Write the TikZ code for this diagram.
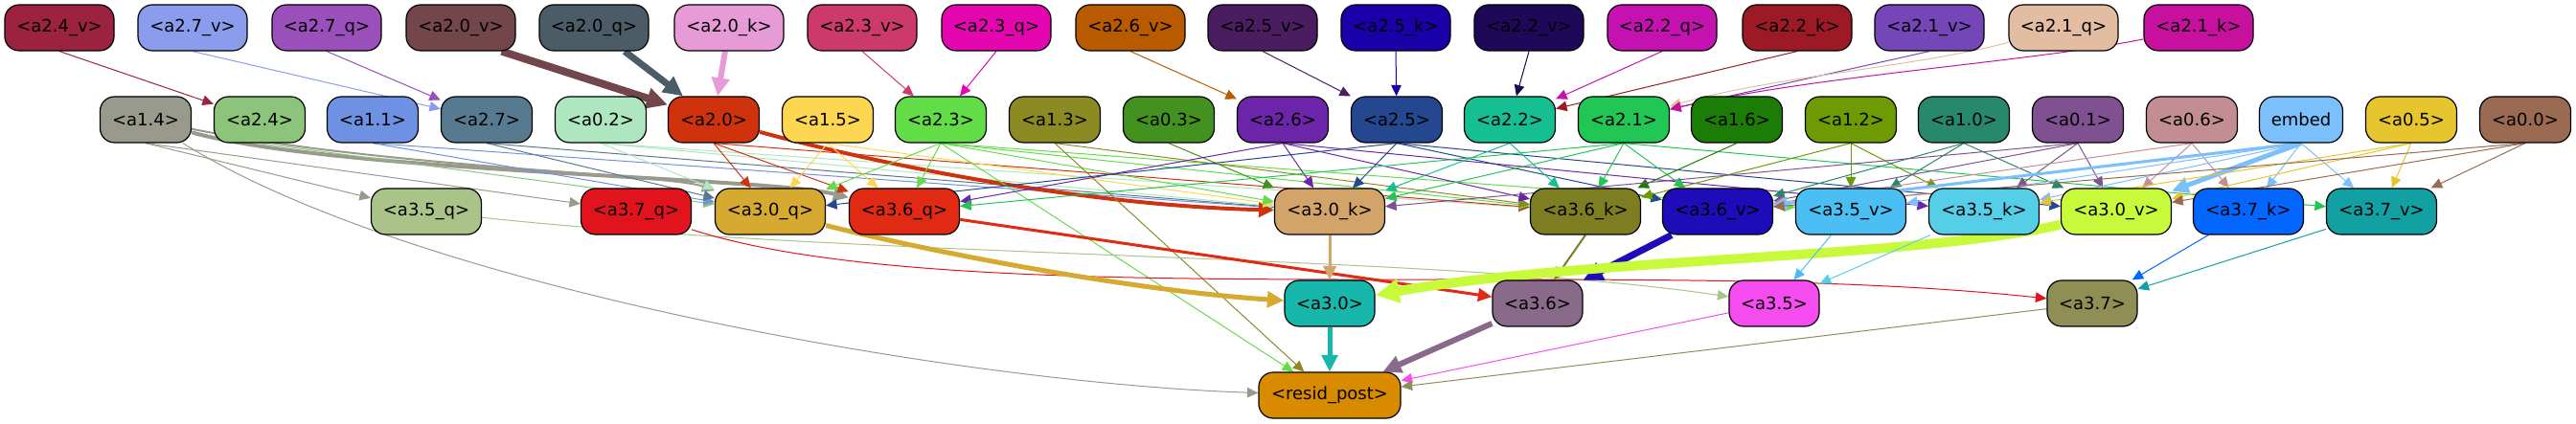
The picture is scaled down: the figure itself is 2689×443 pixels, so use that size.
\documentclass[tikz,border=0pt]{standalone}
\usepackage{fontspec}
\setmainfont{DejaVu Sans}
\usetikzlibrary{arrows.meta,backgrounds}
% row 1
\definecolor{cn24v}{HTML}{9C2340}\definecolor{cn27v}{HTML}{8C9CED}\definecolor{cn27q}{HTML}{9A4FBB}
\definecolor{cn20v}{HTML}{72464B}\definecolor{cn20q}{HTML}{4B5C66}\definecolor{cn20k}{HTML}{E69BD6}
\definecolor{cn23v}{HTML}{CC3A6B}\definecolor{cn23q}{HTML}{E407B0}\definecolor{cn26v}{HTML}{B85A00}
\definecolor{cn25v}{HTML}{4A1D60}\definecolor{cn25k}{HTML}{1A00A8}\definecolor{cn22v}{HTML}{1E0858}
\definecolor{cn22q}{HTML}{C411B0}\definecolor{cn22k}{HTML}{9C1A26}\definecolor{cn21v}{HTML}{7546B8}
\definecolor{cn21q}{HTML}{E2BDA2}\definecolor{cn21k}{HTML}{C7119E}
% row 2
\definecolor{cn14}{HTML}{999A8C}\definecolor{cn24}{HTML}{8BC47A}\definecolor{cn11}{HTML}{6E91E4}
\definecolor{cn27}{HTML}{587A90}\definecolor{cn02}{HTML}{AEE6BF}\definecolor{cn20}{HTML}{CF330E}
\definecolor{cn15}{HTML}{FDD652}\definecolor{cn23}{HTML}{62DD48}\definecolor{cn13}{HTML}{8C8A22}
\definecolor{cn03}{HTML}{43911E}\definecolor{cn26}{HTML}{6C25A8}\definecolor{cn25}{HTML}{244790}
\definecolor{cn22}{HTML}{16BF91}\definecolor{cn21}{HTML}{22C655}\definecolor{cn16}{HTML}{1B7C08}
\definecolor{cn12}{HTML}{6E9A04}\definecolor{cn10}{HTML}{27886C}\definecolor{cn01}{HTML}{7F5191}
\definecolor{cn06}{HTML}{C38E93}\definecolor{cnem}{HTML}{7BBFFC}\definecolor{cn05}{HTML}{E6C52E}
\definecolor{cn00}{HTML}{9A6A52}
% row 3
\definecolor{cn35q}{HTML}{A9C389}\definecolor{cn37q}{HTML}{E1141E}\definecolor{cn30q}{HTML}{D6AA30}
\definecolor{cn36q}{HTML}{E02A14}\definecolor{cn30k}{HTML}{D3A46A}\definecolor{cn36k}{HTML}{7D7D22}
\definecolor{cn36v}{HTML}{1E0CB8}\definecolor{cn35v}{HTML}{4BBFF3}\definecolor{cn35k}{HTML}{55CFE8}
\definecolor{cn30v}{HTML}{C8FA3C}\definecolor{cn37k}{HTML}{0366FF}\definecolor{cn37v}{HTML}{12A0A3}
% row 4/5
\definecolor{cn30}{HTML}{17B7AB}\definecolor{cn36}{HTML}{8A6A8B}\definecolor{cn35}{HTML}{F54CEF}
\definecolor{cn37}{HTML}{8F8F55}\definecolor{cnres}{HTML}{D98B00}
\tikzset{
  box/.style={draw=black, line width=1.2pt, rounded corners=15pt, minimum height=48pt,
    inner sep=0pt, font=\fontsize{18}{20}\selectfont, text=black},
  topbox/.style={box, minimum width=114pt},
  midbox/.style={box, minimum width=95pt},
  qkvbox/.style={box, minimum width=115pt},
  lowbox/.style={box, minimum width=94pt},
  ed/.style={line width=1pt, -{Triangle[length=10pt 1.5, width=9pt 1.5]}},
}
\newcommand\myedge[3]{\draw[ed, draw=c#1, line width=#3pt] (#1.south) -- (#2);}
\newcommand\mynode[6]{\node[#1, fill=c#2] (#2) at (#3,#4) {\textless #5\textgreater};}
\begin{document}
\begin{tikzpicture}[x=1pt,y=-1pt]
\useasboundingbox (0,0) rectangle (2689,443);
% row 1
\mynode{topbox}{n24v}{62}{29}{a2.4\_v}{}
\mynode{topbox}{n27v}{201}{29}{a2.7\_v}{}
\mynode{topbox}{n27q}{341}{29}{a2.7\_q}{}
\mynode{topbox}{n20v}{481}{29}{a2.0\_v}{}
\mynode{topbox}{n20q}{620}{29}{a2.0\_q}{}
\mynode{topbox}{n20k}{761}{29}{a2.0\_k}{}
\mynode{topbox}{n23v}{900}{29}{a2.3\_v}{}
\mynode{topbox}{n23q}{1040}{29}{a2.3\_q}{}
\mynode{topbox}{n26v}{1180}{29}{a2.6\_v}{}
\mynode{topbox}{n25v}{1318}{29}{a2.5\_v}{}
\mynode{topbox}{n25k}{1457}{29}{a2.5\_k}{}
\mynode{topbox}{n22v}{1596}{29}{a2.2\_v}{}
\mynode{topbox}{n22q}{1735}{29}{a2.2\_q}{}
\mynode{topbox}{n22k}{1876}{29}{a2.2\_k}{}
\mynode{topbox}{n21v}{2014}{29}{a2.1\_v}{}
\mynode{topbox}{n21q}{2154}{29}{a2.1\_q}{}
\mynode{topbox}{n21k}{2295}{29}{a2.1\_k}{}
% row 2
\mynode{midbox}{n14}{152}{125}{a1.4}{}
\mynode{midbox}{n24}{271}{125}{a2.4}{}
\mynode{midbox}{n11}{389}{125}{a1.1}{}
\mynode{midbox}{n27}{508}{125}{a2.7}{}
\mynode{midbox}{n02}{627}{125}{a0.2}{}
\mynode{midbox}{n20}{745}{125}{a2.0}{}
\mynode{midbox}{n15}{864}{125}{a1.5}{}
\mynode{midbox}{n23}{982}{125}{a2.3}{}
\mynode{midbox}{n13}{1101}{125}{a1.3}{}
\mynode{midbox}{n03}{1220}{125}{a0.3}{}
\mynode{midbox}{n26}{1339}{125}{a2.6}{}
\mynode{midbox}{n25}{1458}{125}{a2.5}{}
\mynode{midbox}{n22}{1576}{125}{a2.2}{}
\mynode{midbox}{n21}{1695}{125}{a2.1}{}
\mynode{midbox}{n16}{1813}{125}{a1.6}{}
\mynode{midbox}{n12}{1932}{125}{a1.2}{}
\mynode{midbox}{n10}{2050}{125}{a1.0}{}
\mynode{midbox}{n01}{2169}{125}{a0.1}{}
\mynode{midbox}{n06}{2288}{125}{a0.6}{}
\node[box, minimum width=87pt, fill=cnem] (nem) at (2402,125) {embed};
\mynode{midbox}{n05}{2517}{125}{a0.5}{}
\mynode{midbox}{n00}{2636}{125}{a0.0}{}
% row 3
\mynode{qkvbox}{n35q}{445}{221}{a3.5\_q}{}
\mynode{qkvbox}{n37q}{664}{221}{a3.7\_q}{}
\mynode{qkvbox}{n30q}{804}{221}{a3.0\_q}{}
\mynode{qkvbox}{n36q}{944}{221}{a3.6\_q}{}
\mynode{qkvbox}{n30k}{1388}{221}{a3.0\_k}{}
\mynode{qkvbox}{n36k}{1655}{221}{a3.6\_k}{}
\mynode{qkvbox}{n36v}{1793}{221}{a3.6\_v}{}
\mynode{qkvbox}{n35v}{1932}{221}{a3.5\_v}{}
\mynode{qkvbox}{n35k}{2071}{221}{a3.5\_k}{}
\mynode{qkvbox}{n30v}{2209}{221}{a3.0\_v}{}
\mynode{qkvbox}{n37k}{2347}{221}{a3.7\_k}{}
\mynode{qkvbox}{n37v}{2486}{221}{a3.7\_v}{}
% row 4
\mynode{lowbox}{n30}{1388}{317}{a3.0}{}
\mynode{lowbox}{n36}{1605}{317}{a3.6}{}
\mynode{lowbox}{n35}{1852}{317}{a3.5}{}
\mynode{lowbox}{n37}{2184}{317}{a3.7}{}
\node[box, minimum width=148pt, fill=cnres] (nres) at (1388,413) {\textless resid\_post\textgreater};
\begin{scope}[on background layer]
% row 1 -> row 2
\myedge{n24v}{n24}{1}
\myedge{n27v}{n27}{1}
\myedge{n27q}{n27}{1}
\draw[ed, draw=cn20v, line width=8pt] (n20v.-30) -- (n20);
\draw[ed, draw=cn20q, line width=7pt] (n20q) -- (n20);
\draw[ed, draw=cn20k, line width=6pt] (n20k) -- (n20);
\myedge{n23v}{n23}{1}
\myedge{n23q}{n23}{1}
\myedge{n26v}{n26}{1}
\myedge{n25v}{n25}{1}
\myedge{n25k}{n25}{1}
\myedge{n22v}{n22}{1}
\myedge{n22q}{n22}{1}
\myedge{n22k}{n22}{1}
\myedge{n21v}{n21}{1}
\draw[ed, draw=cn21q] (n21q) .. controls (2000,70) and (1850,80) .. (n21);
\draw[ed, draw=cn21k] (n21k) .. controls (2120,65) and (1900,78) .. (n21);
% row 2 -> row 3
\myedge{n14}{n35q}{1}
\myedge{n14}{n37q}{1}
\draw[ed, draw=cn14, line width=4pt] (n14) .. controls (350,180) and (800,185) .. (n36q);
\draw[ed, draw=cn14, line width=2pt] (n14) .. controls (400,175) and (700,182) .. (n30q);
\draw[ed, draw=cn14] (n14) .. controls (430,300) and (1000,400) .. (nres);
\myedge{n24}{n30q}{1}
\myedge{n11}{n30q}{1}
\myedge{n11}{n30k}{1}
\myedge{n27}{n30q}{1}
\myedge{n27}{n30k}{1}
\myedge{n02}{n30q}{1}
\myedge{n02}{n30k}{1}
\myedge{n02}{n36k}{1}
\myedge{n20}{n30q}{1}
\myedge{n20}{n36q}{1}
\draw[ed, draw=cn20, line width=4pt] (n20) .. controls (950,180) and (1150,215) .. (n30k);
\myedge{n20}{n36k}{1}
\myedge{n15}{n30q}{1}
\myedge{n15}{n36q}{1}
\myedge{n15}{n30k}{1}
\myedge{n23}{n30q}{1}
\myedge{n23}{n36q}{1}
\myedge{n23}{n30k}{1}
\myedge{n23}{n36k}{1}
\myedge{n23}{n35v}{1}
\myedge{n23}{nres}{1}
\myedge{n13}{n36k}{1}
\myedge{n13}{nres}{1}
\myedge{n03}{n30k}{1}
\myedge{n26}{n36q}{1}
\myedge{n26}{n30k}{1}
\myedge{n26}{n36k}{1}
\myedge{n26}{n35k}{1}
\myedge{n25}{n30q}{1}
\myedge{n25}{n30k}{1}
\myedge{n25}{n36v}{1}
\myedge{n25}{n30v}{1}
\myedge{n22}{n30k}{1}
\myedge{n22}{n36k}{1}
\myedge{n21}{n36q}{1}
\myedge{n21}{n30k}{1}
\myedge{n21}{n36k}{1}
\myedge{n21}{n36v}{1}
\myedge{n21}{n37v}{1}
\myedge{n16}{n36k}{1}
\myedge{n12}{n36k}{1}
\myedge{n12}{n35v}{1}
\myedge{n12}{n35k}{1}
\myedge{n10}{n36v}{1}
\myedge{n10}{n35v}{1}
\myedge{n10}{n30v}{1}
\myedge{n01}{n30k}{1}
\myedge{n01}{n36v}{1}
\myedge{n01}{n35k}{1}
\myedge{n01}{n30v}{1}
\myedge{n06}{n36v}{1}
\myedge{n06}{n30v}{1}
\myedge{n06}{n37k}{1}
\myedge{nem}{n36v}{3}
\myedge{nem}{n35v}{1}
\myedge{nem}{n35k}{1}
\myedge{nem}{n30v}{5}
\myedge{nem}{n37k}{1}
\myedge{nem}{n37v}{1}
\myedge{n05}{n35k}{1}
\myedge{n05}{n30v}{1}
\myedge{n05}{n37v}{1}
\myedge{n00}{n36v}{1}
\myedge{n00}{n30v}{1}
\myedge{n00}{n37v}{1}
% row 3 -> row 4
\draw[ed, draw=cn35q] (n35q) .. controls (900,270) and (1500,265) .. (n35);
\draw[ed, draw=cn37q] (n37q) .. controls (1000,330) and (1700,265) .. (n37);
\draw[ed, draw=cn30q, line width=5pt] (n30q) .. controls (1000,270) and (1200,305) .. (n30);
\draw[ed, draw=cn36q, line width=3pt] (n36q) -- (n36);
\myedge{n30k}{n30}{3}
\myedge{n36k}{n36}{2}
\draw[ed, draw=cn36v, line width=7pt] (n36v) -- (n36);
\draw[ed, draw=cn30v, line width=10pt] (n30v) .. controls (2000,270) and (1650,270) .. (n30);
\draw[ed, draw=cn35v] (n35v) -- (n35);
\draw[ed, draw=cn35k] (n35k) -- (n35);
\draw[ed, draw=cn37k] (n37k) -- (n37);
\draw[ed, draw=cn37v] (n37v) -- (n37);
% row 4 -> resid
\myedge{n30}{nres}{5}
\draw[ed, draw=cn36, line width=6pt] (n36) -- (nres);
\draw[ed, draw=cn35] (n35) -- (nres);
\draw[ed, draw=cn37] (n37) -- (nres);
\end{scope}
\end{tikzpicture}
\end{document}
